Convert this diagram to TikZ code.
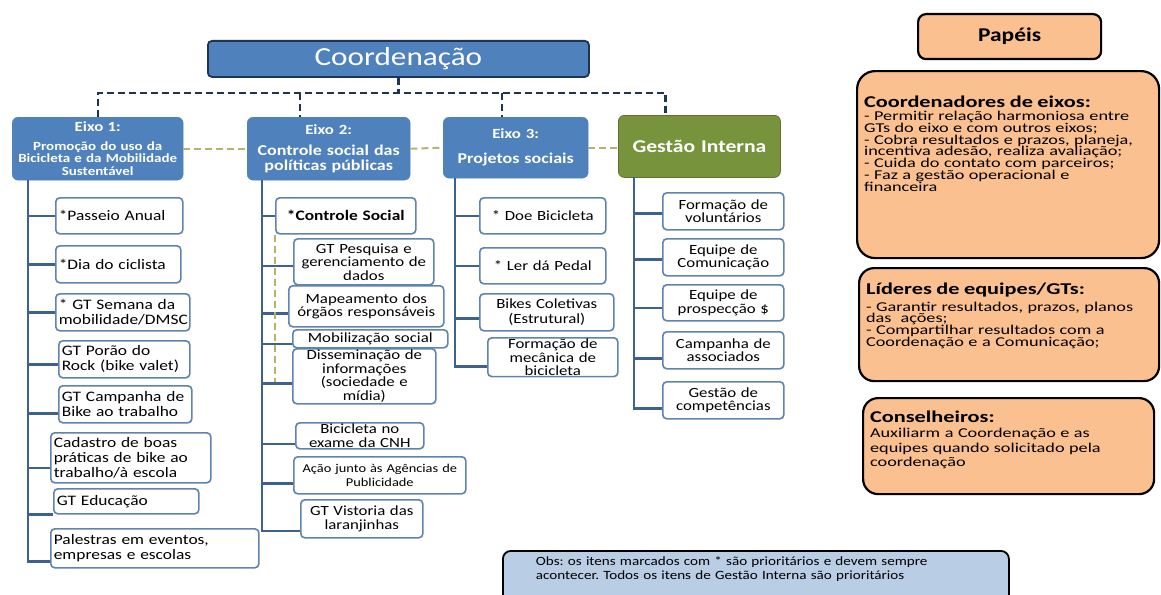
\documentclass[tikz,border=0pt]{standalone}
\usepackage{fontspec}
\setmainfont{Carlito}[FakeStretch=1.2]
\newfontfamily\widefont{Carlito}[FakeStretch=1.35]
\setlength{\lineskiplimit}{-20pt}
\frenchspacing
\definecolor{cEixo}{HTML}{4F81BD}
\definecolor{cLink}{HTML}{3E6192}
\definecolor{cKid}{HTML}{5F84AE}
\definecolor{cNavy}{HTML}{1F3352}
\definecolor{cKhaki}{HTML}{B8B36A}
\definecolor{cGreen}{HTML}{77933C}
\definecolor{cGreenDk}{HTML}{5E7530}
\definecolor{cPeach}{HTML}{FAC090}
\definecolor{cObs}{HTML}{B9CDE5}
\newcommand\kid[7][kidc]{\pgfmathsetmacro\kw{#5-6}\node(#2)[#1,text width=\kw pt,minimum height=#6pt,anchor=north west] at (#3,#4) {#7};}

\begin{document}
\begin{tikzpicture}[x=1pt,y=-1pt,
    kid/.style={draw=cKid,line width=1.6pt,fill=white,rounded corners=4pt,inner xsep=3pt,inner ysep=1pt},
    kidl/.style={kid,align=left,font=\fontsize{14.5}{15}\selectfont},
    kidc/.style={kid,align=center,font=\fontsize{14}{13.5}\selectfont},
    eixo/.style={fill=cEixo,draw=cEixo,rounded corners=6pt,text=white,align=center,inner sep=3pt,anchor=north west},
    conn/.style={draw=cLink,line width=2.6pt},
    topdash/.style={draw=cNavy,line width=2.3pt,dash pattern=on 7pt off 4pt},
    khakidash/.style={draw=cKhaki,line width=2pt,dash pattern=on 7pt off 4pt},
    papel/.style={fill=cPeach,draw=black,line width=2.2pt,rounded corners=18pt,anchor=north west,align=left,
        inner xsep=7pt,inner ysep=0pt,font=\widefont\fontsize{13.5}{11.7}\selectfont}]
\useasboundingbox (0,0) rectangle (1161,594);
\clip (0,0) rectangle (1161,594);

\node(coord)[fill=cEixo,draw=cNavy,line width=1.8pt,rounded corners=4pt,minimum width=381pt,minimum height=36pt,
    anchor=north west,text=white,inner sep=0pt,font=\fontsize{26}{26}\selectfont] at (207,40) {Coordenação};

\node(e1)[eixo,text width=165pt,minimum height=63pt,font=\bfseries\fontsize{12.5}{12.5}\selectfont] at (12,117)
    {{\fontsize{14}{14}\selectfont Eixo 1:}\\[6pt]Promoção do uso da\\Bicicleta e da Mobilidade\\Sustentável};
\node(e2)[eixo,text width=157pt,minimum height=63pt,font=\bfseries\fontsize{15}{15}\selectfont] at (247,117)
    {{\fontsize{14}{14}\selectfont Eixo 2:}\\[6pt]Controle social das\\políticas públicas};
\node(e3)[eixo,text width=139pt,minimum height=61pt,font=\bfseries\fontsize{15}{15}\selectfont] at (443,117)
    {{\fontsize{14}{14}\selectfont Eixo 3:}\\[10pt]Projetos sociais};
\node(gi)[eixo,fill=cGreen,draw=cGreenDk,line width=0.8pt,text width=156pt,minimum height=62pt,
    font=\bfseries\fontsize{18}{18}\selectfont] at (618,115) {Gestão Interna};

\kid[kidl]{p1}{55}{197}{127}{36}{*Passeio Anual}
\kid[kidl]{p2}{55}{245}{125}{37}{*Dia do ciclista}
\kid[kidl]{p3}{55}{293}{134}{37}{* GT Semana da\\mobilidade/DMSC}
\kid[kidl]{p4}{58}{340}{131}{37}{GT Porão do\\Rock (bike valet)}
\kid[kidl]{p5}{58}{385}{133}{37}{GT Campanha de\\Bike ao trabalho}
\kid[kidl]{p6}{50}{432}{160}{50}{Cadastro de boas\\práticas de bike ao\\trabalho/à escola}
\kid[kidl]{p7}{53}{488}{145}{25}{GT Educação}
\kid[kidl]{p8}{50}{528}{208}{39}{Palestras em eventos,\\empresas e escolas}

\kid[kidc,font=\bfseries\fontsize{14.5}{15}\selectfont]{c1}{275}{197}{140}{36}{*Controle Social}
\kid{c2}{293}{238}{140}{46}{GT Pesquisa e\\gerenciamento de\\dados}
\kid{c3}{288}{285}{155}{41}{Mapeamento dos\\órgãos responsáveis}
\kid{c4}{292}{329}{155}{18}{Mobilização social}
\kid{c5}{292}{348}{143}{55}{Disseminação de\\informações\\(sociedade e\\mídia)}
\kid{c6}{295}{422}{128}{26}{Bicicleta no\\exame da CNH}
\kid[kidc,font=\fontsize{12}{13.5}\selectfont]{c7}{293}{456}{172}{37}{Ação junto às Agências de\\Publicidade}
\kid{c8}{300}{499}{122}{38}{GT Vistoria das\\laranjinhas}

\kid{d1}{479}{197}{126}{36}{* Doe Bicicleta}
\kid{d2}{479}{247}{126}{36}{* Ler dá Pedal}
\kid[kidc,font=\fontsize{14}{15}\selectfont]{d3}{479}{293}{134}{37}{Bikes Coletivas\\(Estrutural)}
\kid{d4}{487}{337}{130}{38}{Formação de\\mecânica de\\bicicleta}

\kid{g1}{662}{192}{121}{37}{Formação de\\voluntários}
\kid{g2}{662}{238}{121}{37}{Equipe de\\Comunicação}
\kid{g3}{662}{284}{121}{36}{Equipe de\\prospecção \$}
\kid{g4}{662}{331}{121}{37}{Campanha de\\associados}
\kid{g5}{662}{381}{121}{37}{Gestão de\\competências}

\node(pap)[papel,rounded corners=8pt,align=center,minimum width=183pt,minimum height=45pt,
    font=\bfseries\fontsize{19.5}{20}\selectfont] at (917,13) {Papéis};
\node(ce)[papel,text width=288pt,text height=36pt,text depth=151pt] at (856,70)
    {{\fontsize{16.5}{15}\bfseries\selectfont Coordenadores de eixos:}\\[2pt]- Permitir relação harmoniosa entre\\GTs do eixo e com outros eixos;\\- Cobra resultados e prazos, planeja,\\incentiva adesão, realiza avaliação;\\- Cuida do contato com parceiros;\\- Faz a gestão operacional e\\financeira};
\node(le)[papel,rounded corners=15pt,text width=286pt,text height=26pt,text depth=87pt] at (858,267)
    {{\fontsize{16.5}{15}\bfseries\selectfont Líderes de equipes/GTs:}\\[4pt]- Garantir resultados, prazos, planos\\das\ \ ações;\\- Compartilhar resultados com a\\Coordenação e a Comunicação;};
\node(con)[papel,rounded corners=15pt,text width=277pt,text height=24pt,text depth=72pt,
    font=\widefont\fontsize{13.5}{14.5}\selectfont] at (862,397)
    {{\fontsize{16.5}{15}\bfseries\selectfont Conselheiros:}\\[1pt]Auxiliarm a Coordenação e as\\equipes quando solicitado pela\\coordenação};
\node(obs)[fill=cObs,draw=black,line width=1.8pt,rounded corners=8pt,anchor=north west,align=left,
    text width=440pt,inner xsep=33pt,inner ysep=0pt,text height=15pt,text depth=41pt,
    font=\fontsize{12.6}{13.5}\selectfont] at (502,550)
    {Obs: os itens marcados com * são prioritários e devem sempre\\acontecer. Todos os itens de Gestão Interna são prioritários};

\coordinate (bus) at (0,93);
\coordinate (dr2) at ([xshift=-28.5pt]e2.north);
\coordinate (dr3) at ([xshift=-13.5pt]e3.north);
\coordinate (dr4) at ([xshift=-34pt]gi.north);
\draw[topdash] (coord.south) -- (coord.south |- bus);
\draw[topdash] (e1.north) |- (dr4 |- bus) -- (dr4);
\draw[topdash] (dr2 |- bus) -- (dr2);
\draw[topdash] (dr3 |- bus) -- (dr3);

\coordinate (b1) at (28,180);
\coordinate (b2) at (262,180);
\coordinate (b3) at (455,178);
\coordinate (b4) at (634,177);
\foreach \n/\d in {p1/0,p2/0,p3/0,p4/5,p5/9,p6/10,p7/13,p8/13}
    \draw[conn] (b1) |- ([yshift=-\d pt]\n.west);
\foreach \n/\d in {c1/0,c2/4,c3/7,c4/5,c5/7,c6/8,c7/8,c8/12}
    \draw[conn] (b2) |- ([yshift=-\d pt]\n.west);
\foreach \n/\d in {d1/0,d2/0,d3/6,d4/9}
    \draw[conn] (b3) |- ([yshift=-\d pt]\n.west);
\foreach \n/\d in {g1/2,g2/2,g3/5,g4/8,g5/8}
    \draw[conn] (b4) |- ([yshift=-\d pt]\n.west);

\coordinate (ke) at (275,382);
\draw[khakidash] (c1.south west) -- (ke);
\draw[khakidash] (e1.east) -- (e2.west);
\draw[khakidash] (e2.east) -- (e3.west);
\draw[khakidash] (e3.east) -- (e3.east -| gi.west);
\end{tikzpicture}
\end{document}
